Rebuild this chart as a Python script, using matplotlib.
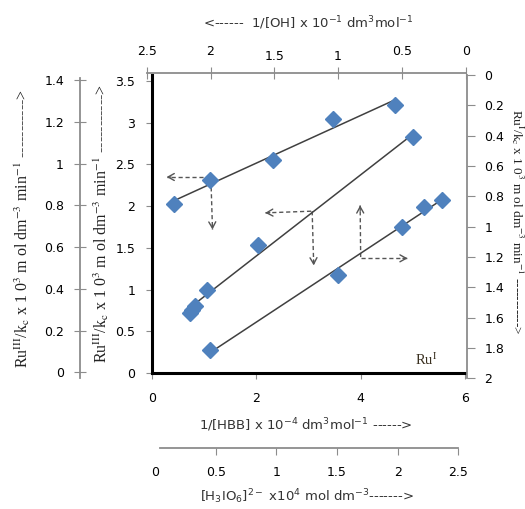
import matplotlib
matplotlib.use("Agg")
import matplotlib.pyplot as plt
import matplotlib.transforms as mtransforms
import numpy as np

# ---------------- data (main-axes units) ----------------
hbb_x = [0.72, 0.76, 0.83, 1.05, 2.03, 5.01]          # 1/[HBB] x 10^-4
hbb_y = [0.72, 0.76, 0.80, 1.00, 1.53, 2.83]
top_x = [0.43, 1.115, 2.32, 3.47, 4.65]
top_y = [2.03, 2.31, 2.55, 3.05, 3.21]
low_x = [1.115, 3.57, 4.79, 5.21, 5.55]
low_y = [0.28, 1.175, 1.75, 1.99, 2.08]

main_xticks = [0, 2, 4, 6]
main_yticks = [0, 0.5, 1, 1.5, 2, 2.5, 3, 3.5]
outer_yticks = [0, 0.2, 0.4, 0.6, 0.8, 1.0, 1.2, 1.4]
right_yticks = [0, 0.2, 0.4, 0.6, 0.8, 1.0, 1.2, 1.4, 1.6, 1.8, 2.0]
top_xticks = [2.5, 2, 1.5, 1, 0.5, 0]
bot2_xticks = [0, 0.5, 1, 1.5, 2, 2.5]

# guide arrows: (x_start, y_start, x_end, y_end) in main-axes units
guide_arrows = [
    (1.115, 2.35, 0.28, 2.35),
    (1.13, 2.31, 1.16, 1.72),
    (3.05, 1.94, 2.17, 1.92),
    (3.07, 1.94, 3.10, 1.29),
    (4.00, 1.39, 3.99, 2.01),
    (4.00, 1.375, 4.90, 1.375),
]

W, H = 525, 509
fig = plt.figure(figsize=(W / 100, H / 100), dpi=100)
plt.rcParams['font.family'] = ['DejaVu Sans']


def rect(x0, y0, x1, y1):
    return [x0 / W, 1 - y1 / H, (x1 - x0) / W, (y1 - y0) / H]


def fmt(v):
    return f"{v:g}"


grey = '#8c8c8c'
tick_fs = 9

# ---------------- main axes ----------------
ax = fig.add_axes(rect(152, 75, 465, 373))
ax.set_xlim(0, 6)
ax.set_ylim(0, 3.573)
ax.patch.set_alpha(0)
for s in ['top', 'right']:
    ax.spines[s].set_visible(False)
for s in ['left', 'bottom']:
    ax.spines[s].set_color('black')
    ax.spines[s].set_linewidth(2.2)
ax.set_xticks(main_xticks)
ax.set_xticklabels([fmt(v) for v in main_xticks])
ax.set_yticks(main_yticks)
ax.set_yticklabels([fmt(v) for v in main_yticks])
ax.tick_params(axis='x', direction='out', length=4, color=grey, pad=10, labelsize=tick_fs)
ax.tick_params(axis='y', direction='out', length=4, color=grey, pad=8, labelsize=tick_fs)

for xs, ys in [(top_x, top_y), (hbb_x, hbb_y), (low_x, low_y)]:
    k, b = np.polyfit(xs, ys, 1)
    xx = np.array([min(xs), max(xs)])
    ax.plot(xx, k * xx + b, color='#404040', lw=1.1, zorder=2)
    ax.plot(xs, ys, linestyle='none', marker='D', markersize=8,
            color='#4F81BD', markeredgecolor='#4F81BD', zorder=3)

for (x0, y0, x1, y1) in guide_arrows:
    ax.plot([x0, x1], [y0, y1], color='#555555', lw=1.0, linestyle=(0, (3, 2)), zorder=1)
    ax.annotate('', xy=(x1, y1), xytext=(x0 + (x1 - x0) * 0.9, y0 + (y1 - y0) * 0.9),
                arrowprops=dict(arrowstyle='->,head_length=0.45,head_width=0.25',
                                color='#555555', lw=1.0, shrinkA=0, shrinkB=0))

ax.text(5.05, 0.10, r'Ru$^{\rm I}$', fontsize=10.5, family='Liberation Serif',
        math_fontfamily='stix', color='#3a3020')

# ---------------- outer left axis ----------------
ax2 = fig.add_axes(rect(80, 78, 81, 378))
ax2.set_ylim(-0.027, 1.41)
ax2.patch.set_alpha(0)
for s in ['top', 'right', 'bottom']:
    ax2.spines[s].set_visible(False)
ax2.spines['left'].set_color(grey)
ax2.spines['left'].set_linewidth(1.3)
ax2.set_xticks([])
ax2.set_yticks(outer_yticks)
ax2.set_yticklabels([fmt(v) for v in outer_yticks])
ax2.tick_params(axis='y', direction='inout', length=9, color=grey, pad=7, labelsize=tick_fs)

# ---------------- right axis ----------------
ax3 = fig.add_axes(rect(400, 75, 466.5, 378.3))
ax3.set_ylim(2, 0)
ax3.patch.set_alpha(0)
for s in ['top', 'left', 'bottom']:
    ax3.spines[s].set_visible(False)
ax3.spines['right'].set_color(grey)
ax3.spines['right'].set_linewidth(1.3)
ax3.set_xticks([])
ax3.yaxis.tick_right()
ax3.set_yticks(right_yticks)
ax3.set_yticklabels([fmt(v) for v in right_yticks])
ax3.tick_params(axis='y', direction='out', length=6, color=grey, pad=7, labelsize=tick_fs)

# ---------------- top axis ----------------
ax4 = fig.add_axes(rect(146.7, 73, 465.7, 200))
ax4.set_xlim(2.5, 0)
ax4.patch.set_alpha(0)
for s in ['bottom', 'left', 'right']:
    ax4.spines[s].set_visible(False)
ax4.spines['top'].set_color(grey)
ax4.spines['top'].set_linewidth(1.3)
ax4.set_yticks([])
ax4.xaxis.tick_top()
ax4.set_xticks(top_xticks)
ax4.set_xticklabels([fmt(v) for v in top_xticks])
ax4.tick_params(axis='x', direction='inout', length=8, color=grey, pad=7, labelsize=tick_fs)
for lab in ax4.get_xticklabels():
    if lab.get_text() in ('1.5', '1'):
        lab.set_transform(lab.get_transform() +
                          mtransforms.ScaledTranslation(0, -5 / 100, fig.dpi_scale_trans))

# ---------------- second bottom axis ----------------
ax5 = fig.add_axes(rect(155, 300, 458.3, 448))
ax5.set_xlim(0, 2.5)
ax5.patch.set_alpha(0)
for s in ['top', 'left', 'right']:
    ax5.spines[s].set_visible(False)
ax5.spines['bottom'].set_color(grey)
ax5.spines['bottom'].set_linewidth(1.3)
ax5.spines['bottom'].set_bounds(0.04, 2.5)
ax5.set_yticks([])
ax5.set_xticks(bot2_xticks)
ax5.set_xticklabels([fmt(v) for v in bot2_xticks])
ax5.tick_params(axis='x', direction='out', length=5, color=grey, pad=8, labelsize=tick_fs)
ax5.xaxis.get_major_ticks()[0].tick1line.set_visible(False)

# ---------------- titles ----------------
def ftext(x, y, s, **kw):
    fig.text(x / W, 1 - y / H, s, ha='center', va='center', **kw)


ftext(308, 23, r'<------  1/[OH] x 10$^{-1}$ dm$^{3}$mol$^{-1}$', fontsize=9.5, color='#333')
ftext(306, 425, r'1/[HBB] x 10$^{-4}$ dm$^{3}$mol$^{-1}$ ------>', fontsize=9.5, color='#333')
ftext(307, 497, r'[H$_{3}$IO$_{6}$]$^{2-}$ x10$^{4}$ mol dm$^{-3}$------->', fontsize=9.5, color='#333')

serif_kw = dict(family='Liberation Serif', math_fontfamily='stix', color='#222')
lab_left = r'Ru$^{\rm III}$/k$_{\rm c}$ x 1 0$^{3}$ m ol dm$^{-3}$ min$^{-1}$ ----------->'
ftext(22, 228, lab_left, rotation=90, fontsize=11.5, **serif_kw)
ftext(101, 223, lab_left, rotation=90, fontsize=11.5, **serif_kw)
ftext(517.5, 222, r'Ru$^{\rm I}$/k$_{\rm c}$ x 1 0$^{3}$ m ol dm$^{-3}$ min$^{-1}$ ----------->',
      rotation=270, fontsize=9.5, **serif_kw)

fig.savefig('out.png', dpi=100)
